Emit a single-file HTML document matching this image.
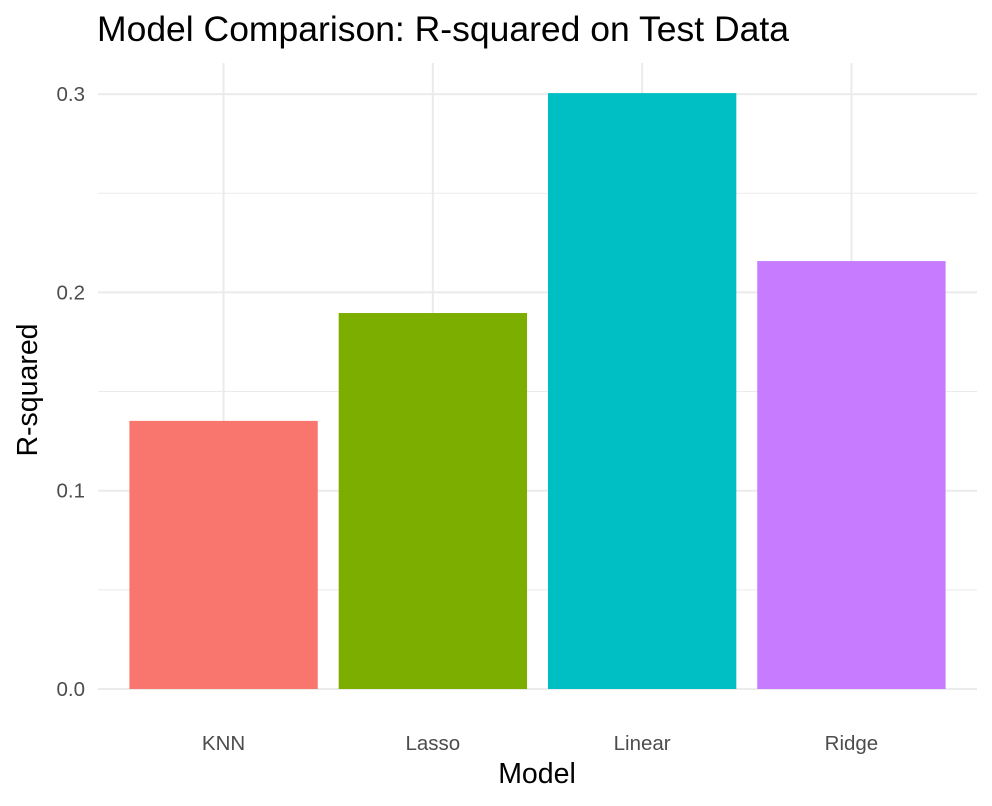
<!DOCTYPE html>
<html><head><meta charset="utf-8"><style>
body{margin:0;background:#fff;}
svg{display:block;font-family:"Liberation Sans",sans-serif;}
</style></head><body>
<svg id="chart" width="992" height="806" xmlns="http://www.w3.org/2000/svg">
<text x="97" y="41" font-size="35.5" fill="#000">Model Comparison: R-squared on Test Data</text>
<g id="grid"></g><g id="bars"></g><g id="labels"></g>
<text x="537" y="783" font-size="28.5" text-anchor="middle" fill="#000">Model</text>
<text transform="translate(37,390) rotate(-90)" font-size="28.5" text-anchor="middle" fill="#000">R-squared</text>
</svg>
<script>
const categories=["KNN","Lasso","Linear","Ridge"];
const values=[0.1352,0.1896,0.3005,0.2158];
const colors=["#F8766D","#7CAE00","#00BFC4","#C77CFF"];
const yTicks=[0,0.1,0.2,0.3];
const yTickLabels=["0.0","0.1","0.2","0.3"];
const yMinor=[0.05,0.15,0.25];
const NS="http://www.w3.org/2000/svg";
const left=98,right=977,y0=689,pxPer=1983;
const step=(right-left)/4.2;
function xPos(i){return left+(i+0.6)*step;}
function yPos(v){return y0-v*pxPer;}
function mk(t,a,p){const e=document.createElementNS(NS,t);for(const k in a)e.setAttribute(k,a[k]);p.appendChild(e);return e;}
const g=document.getElementById('grid'),b=document.getElementById('bars'),l=document.getElementById('labels');
yMinor.forEach(v=>{const e=mk('line',{x1:left,x2:right,y1:yPos(v),y2:yPos(v),stroke:'#ebebeb','stroke-width':1},g);

});
yTicks.forEach((v,i)=>{const e=mk('line',{x1:left,x2:right,y1:yPos(v),y2:yPos(v),stroke:'#ebebeb','stroke-width':2},g);


const t=mk('text',{x:85,y:yPos(v)+7,'font-size':20.5,'text-anchor':'end',fill:'#4d4d4d'},l);t.textContent=yTickLabels[i];

});
categories.forEach((c,i)=>{const x=xPos(i);
const e=mk('line',{x1:x,x2:x,y1:63,y2:y0,stroke:'#ebebeb','stroke-width':2},g);


const w=step*0.9;
const r=mk('rect',{x:x-w/2,y:yPos(values[i]),width:w,height:y0-yPos(values[i]),fill:colors[i]},b);


const t=mk('text',{x:x,y:750,'font-size':20.5,'text-anchor':'middle',fill:'#4d4d4d'},l);t.textContent=c;

});
</script>
</body></html>
